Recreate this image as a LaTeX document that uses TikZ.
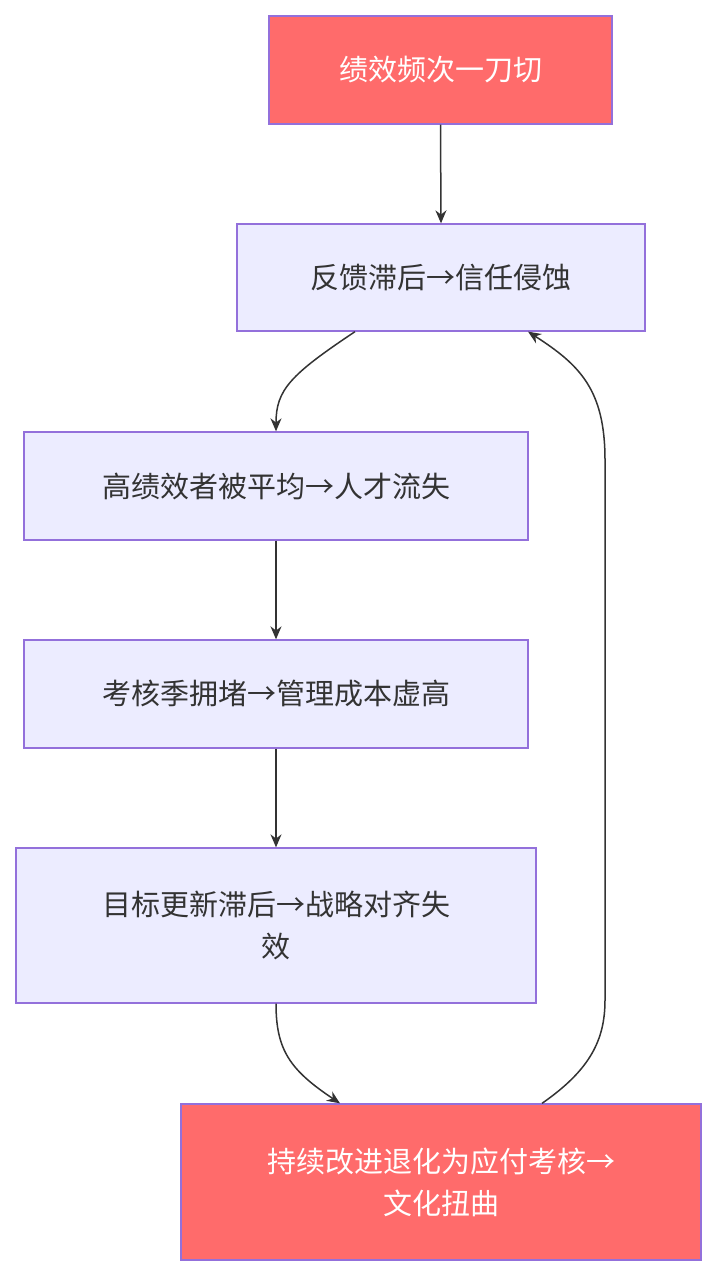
\documentclass[tikz,border=0pt]{standalone}
\usepackage{fontspec}
\newfontfamily\cjk{Noto Sans CJK SC}
\usetikzlibrary{arrows.meta}
\definecolor{redf}{HTML}{FF6B6B}
\definecolor{bluef}{HTML}{ECECFF}
\definecolor{bord}{HTML}{9370DB}
\definecolor{ln}{HTML}{333333}
\begin{document}
\begin{tikzpicture}[x=1pt,y=-1pt,
 box/.style={draw=bord,line width=1.3pt,fill=bluef,font=\cjk\fontsize{29}{42}\selectfont,text=ln,align=center,inner sep=0pt},
 redbox/.style={box,fill=redf,text=white},
 conn/.style={draw=ln,line width=1.5pt,-{Stealth[length=13pt,width=11pt]}}]
\useasboundingbox (0,0) rectangle (717,1276);
\node[redbox,minimum width=343pt,minimum height=108pt] (A) at (440.5,70) {绩效频次一刀切};
\node[box,minimum width=408pt,minimum height=107pt] (B) at (441,277.5) {反馈滞后→信任侵蚀};
\node[box,minimum width=504pt,minimum height=108pt] (C) at (276,486) {高绩效者被平均→人才流失};
\node[box,minimum width=504pt,minimum height=108pt] (D) at (276,694) {考核季拥堵→管理成本虚高};
\node[box,minimum width=520pt,minimum height=155pt] (E) at (276,925.5) {目标更新滞后→战略对齐失\\效};
\node[redbox,minimum width=520pt,minimum height=156pt] (F) at (441,1182) {持续改进退化为应付考核→\\文化扭曲};
\draw[conn] (A.south) -- (B.north);
\draw[conn] ([xshift=-86pt]B.south) .. controls (290,375) and (276,390) .. (C.north);
\draw[conn] (C.south) -- (D.north);
\draw[conn] (D.south) -- (E.north);
\draw[conn] (E.south) .. controls (276,1050) and (290,1070) .. ([xshift=-101pt]F.north);
\draw[conn] ([xshift=101pt]F.north) .. controls (590,1070) and (605,1040) .. (605,1000) -- (605,460) .. controls (605,390) and (580,365) .. ([xshift=87pt]B.south);
\end{tikzpicture}
\end{document}
